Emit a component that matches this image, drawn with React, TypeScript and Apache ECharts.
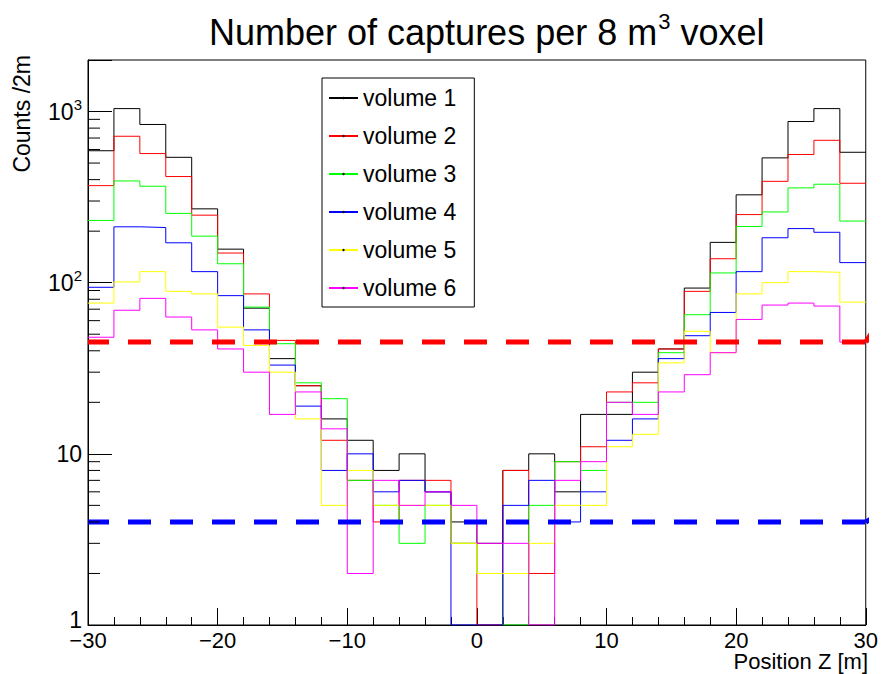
import React, { useEffect, useRef } from "react";
import * as echarts from "echarts";

// Bin low edges (2 m bins), last bin ends at X_MAX
const binLow = [-30, -28, -26, -24, -22, -20, -18, -16, -14, -12, -10, -8, -6, -4, -2, 0, 2, 4, 6, 8, 10, 12, 14, 16, 18, 20, 22, 24, 26, 28];
const X_MIN = -30;
const X_MAX = 30;
const Y_MIN = 1;
const Y_MAX = 2000;

const seriesNames = ["volume 1", "volume 2", "volume 3", "volume 4", "volume 5", "volume 6"];
const seriesColors = ["#000000", "#ff0000", "#00ff00", "#0000ff", "#ffff00", "#ff00ff"];

const volume1 = [590, 1040, 840, 540, 270, 157, 71, 36, 25, 16, 12, 8, 10, 6, 4, 3, 8, 10, 6, 17, 17, 30, 41, 93, 172, 326, 536, 874, 1040, 578];
const volume2 = [369, 717, 568, 417, 248, 149, 86, 46, 25, 12, 7, 4, 7, 7, 3, 0, 8, 2, 9, 11, 23, 26, 41, 89, 138, 250, 391, 561, 679, 381];
const volume3 = [231, 393, 366, 254, 187, 129, 72, 44, 26, 21, 7, 5, 3, 5, 3, 2, 0, 5, 9, 8, 20, 20, 39, 65, 114, 213, 259, 358, 376, 229];
const volume4 = [94, 212, 210, 171, 116, 84, 53, 33, 19, 8, 10, 6, 7, 6, 0, 0, 5, 7, 4, 6, 12, 16, 36, 49, 67, 116, 183, 207, 197, 131];
const volume5 = [76, 101, 116, 89, 86, 55, 43, 30, 16, 5, 8, 5, 5, 5, 3, 2, 2, 3, 5, 5, 11, 13, 34, 52, 39, 86, 100, 116, 115, 77];
const volume6 = [48, 69, 81, 63, 53, 41, 30, 17, 23, 14, 2, 7, 5, 6, 5, 3, 3, 0, 7, 9, 20, 17, 23, 29, 39, 61, 74, 76, 73, 45];
const volumes = [volume1, volume2, volume3, volume4, volume5, volume6];

// Horizontal reference levels (dashed) and their end stubs past the frame
const redLevel = 45;
const blueLevel = 4;
const redStubEnd = [31, 59];
const blueStubEnd = [31, 4.4];

const xMajorTicks = [-30, -20, -10, 0, 10, 20, 30];
const yDecades = [1, 10, 100, 1000];
const yMinorTicks = [2, 3, 4, 5, 6, 7, 8, 9, 20, 30, 40, 50, 60, 70, 80, 90, 200, 300, 400, 500, 600, 700, 800, 900];

const FONT = '"Liberation Sans", Arial, Helvetica, sans-serif';

const plotVal = (v: number) => (v > 0 ? v : Y_MIN);

function histData(values: number[]) {
  const pts = binLow.map((x, i) => [x, plotVal(values[i])]);
  pts.push([X_MAX, plotVal(values[values.length - 1])]);
  return pts;
}

export default function App() {
  const ref = useRef<HTMLDivElement>(null);

  useEffect(() => {
    if (!ref.current) return;
    const chart = echarts.init(ref.current, undefined, { renderer: "svg" });

    const histSeries = volumes.map((vals, i) => ({
      name: seriesNames[i],
      type: "line",
      step: "end",
      data: histData(vals),
      symbol: "circle",
      symbolSize: 2,
      showSymbol: false,
      lineStyle: { color: seriesColors[i], width: 1 },
      itemStyle: { color: seriesColors[i] },
      z: 2 + i * 0.01,
      silent: true,
    }));

    const option: any = {
      animation: false,
      backgroundColor: "#ffffff",
      title: {
        left: 204,
        top: 5,
        text: "{b|Number of captures per 8 m}{s|3}{b| voxel}",
        textStyle: {
          fontFamily: FONT,
          fontWeight: "normal",
          color: "#000",
          rich: {
            b: { fontSize: 36, lineHeight: 44, fontWeight: "normal", fontFamily: FONT, color: "#000" },
            s: { fontSize: 22, lineHeight: 22, padding: [0, 0, 22, 1], fontWeight: "normal", fontFamily: FONT, color: "#000" },
          },
        },
      },
      grid: {
        left: 88,
        right: 13,
        top: 60,
        bottom: 49,
        show: true,
        borderColor: "#000",
        borderWidth: 1,
        backgroundColor: "transparent",
        containLabel: false,
      },
      legend: {
        data: seriesNames,
        orient: "vertical",
        left: 322,
        top: 78,
        padding: [8, 18, 7, 6],
        itemWidth: 29,
        itemHeight: 3,
        itemGap: 14,
        backgroundColor: "#fff",
        borderColor: "#000",
        borderWidth: 1,
        borderRadius: 0,
        selectedMode: false,
        itemStyle: { color: "#000", borderWidth: 0 },
        textStyle: { fontSize: 23, lineHeight: 24, color: "#000", fontFamily: FONT },
      },
      xAxis: {
        type: "value",
        min: X_MIN,
        max: X_MAX,
        interval: 10,
        axisLine: { show: true, onZero: false, lineStyle: { color: "#000", width: 1 } },
        axisTick: { show: true, inside: true, length: 17, lineStyle: { color: "#000" } },
        minorTick: { show: true, splitNumber: 5, length: 8, lineStyle: { color: "#000" } },
        splitLine: { show: false },
        axisLabel: {
          margin: 4,
          fontSize: 22,
          color: "#000",
          fontFamily: FONT,
          formatter: (v: number) => (xMajorTicks.includes(v) ? (v < 0 ? "\u2212" + Math.abs(v) : String(v)) : ""),
        },
      },
      yAxis: {
        type: "log",
        logBase: 10,
        min: Y_MIN,
        max: Y_MAX,
        axisLine: { show: true, onZero: false, lineStyle: { color: "#000", width: 1 } },
        axisTick: { show: true, inside: true, length: 24, lineStyle: { color: "#000" } },
        splitLine: { show: false },
        axisLabel: {
          margin: 6,
          color: "#000",
          fontFamily: FONT,
          formatter: (v: number) => {
            const d = yDecades.find((t) => Math.abs(t - v) / t < 1e-6);
            if (d === undefined) return "";
            if (d === 1) return "{one|1}";
            if (d === 10) return "{b|10}";
            return "{b|10}{s|" + Math.round(Math.log10(d)) + "}";
          },
          rich: {
            b: { fontSize: 23, lineHeight: 30, fontFamily: FONT, color: "#000" },
            one: { fontSize: 23, lineHeight: 23, padding: [0, 0, 10, 0], fontFamily: FONT, color: "#000" },
            s: { fontSize: 15, lineHeight: 15, padding: [0, 0, 15, 0], fontFamily: FONT, color: "#000" },
          },
        },
      },
      graphic: [
        {
          type: "text",
          x: 22,
          y: 55,
          rotation: Math.PI / 2,
          style: {
            text: "Counts /2m",
            font: '23px "Liberation Sans", Arial, sans-serif',
            fill: "#000",
            align: "right",
            verticalAlign: "middle",
          },
        },
        {
          type: "text",
          x: 868,
          y: 661,
          style: {
            text: "Position Z [m]",
            font: '22px "Liberation Sans", Arial, sans-serif',
            fill: "#000",
            align: "right",
            verticalAlign: "middle",
          },
        },
      ],
      series: [
        ...histSeries,
        {
          name: "minor-y-ticks",
          type: "custom",
          silent: true,
          z: 5,
          data: yMinorTicks.map((v) => [X_MIN, v]),
          renderItem: (_params: any, api: any) => {
            const p = api.coord([api.value(0), api.value(1)]);
            return {
              type: "line",
              shape: { x1: p[0], y1: p[1], x2: p[0] + 12, y2: p[1] },
              style: { stroke: "#000", lineWidth: 1 },
            };
          },
        },
        {
          name: "red-level",
          type: "line",
          data: [[X_MIN, redLevel], [X_MAX, redLevel]],
          symbol: "none",
          silent: true,
          z: 4,
          lineStyle: { color: "#ff0000", width: 5, type: [23, 19], dashOffset: 2 },
        },
        {
          name: "blue-level",
          type: "line",
          data: [[X_MIN, blueLevel], [X_MAX, blueLevel]],
          symbol: "none",
          silent: true,
          z: 4,
          lineStyle: { color: "#0000ff", width: 5, type: [23, 19], dashOffset: 2 },
        },
        {
          name: "red-stub",
          type: "line",
          data: [[X_MAX, redLevel], redStubEnd],
          symbol: "none",
          silent: true,
          clip: false,
          z: 4,
          lineStyle: { color: "#ff0000", width: 5 },
        },
        {
          name: "blue-stub",
          type: "line",
          data: [[X_MAX, blueLevel], blueStubEnd],
          symbol: "none",
          silent: true,
          clip: false,
          z: 4,
          lineStyle: { color: "#0000ff", width: 5 },
        },
      ],
    };

    chart.setOption(option);
    return () => chart.dispose();
  }, []);

  return (
    <div
      ref={ref}
      style={{ position: "fixed", left: 0, top: 0, width: 881, height: 674, background: "#fff" }}
    />
  );
}
